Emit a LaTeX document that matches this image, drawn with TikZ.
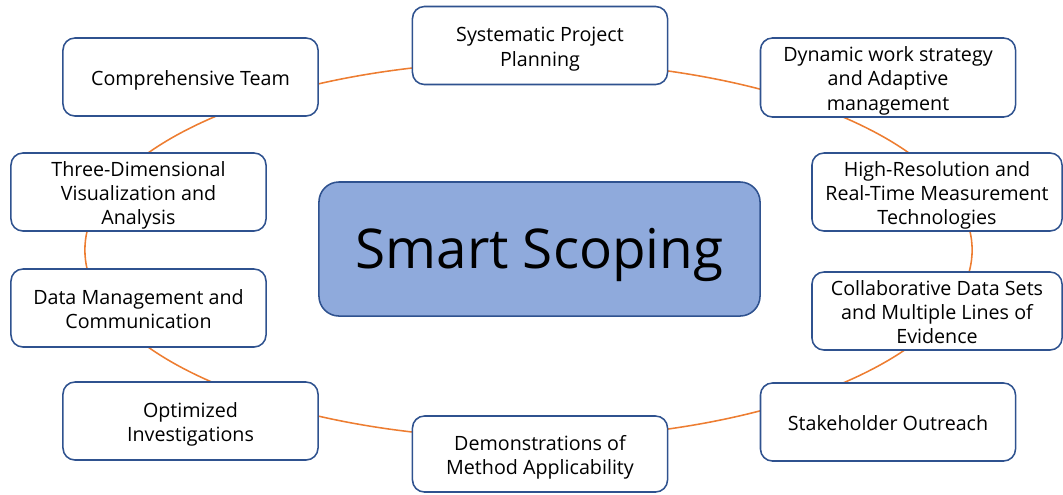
\documentclass[tikz,border=0pt]{standalone}
\usepackage{fontspec}
\setmainfont{Open Sans}
\definecolor{boxline}{HTML}{2F528F}
\definecolor{centerfill}{HTML}{8FAADC}
\definecolor{ringcol}{HTML}{ED7D31}
\newcommand{\tx}[1]{\raisebox{-2.6pt}[\height][\depth]{\begin{tabular}{@{}c@{}}#1\end{tabular}}}
\begin{document}
\begin{tikzpicture}[x=0.025cm,y=-0.025cm,
  item/.style={draw=boxline, line width=1.1pt, fill=white, rounded corners=0.3cm,
    minimum width=6.375cm, minimum height=1.95cm, inner sep=0pt,
    font=\fontsize{14}{17.2}\selectfont, text=black},
  hub/.style={draw=boxline, line width=1.1pt, fill=centerfill, rounded corners=0.5cm,
    minimum width=11.025cm, minimum height=3.35cm, inner sep=0pt,
    font=\fontsize{39}{46}\selectfont, text height=28pt, text depth=0pt},
  ring/.style={draw=ringcol, line width=1.1pt}]
\useasboundingbox (0,0) rectangle (1063,494);
\coordinate (ec) at (528.5,250);
\draw[ring] (ec) ellipse[x radius=11.0875cm, y radius=4.7125cm];
\node[hub] (hub) at (539.5,249) {Smart Scoping};
\node[item] (sys) at (540,45.5) {\tx{Systematic Project\\Planning}};
\node[item, minimum height=1.975cm] (dyn) at (888,77.5) {\tx{Dynamic work strategy\\and Adaptive\\management}};
\node[item, minimum width=6.25cm] (hires) at (937,192) {\tx{High-Resolution and\\Real-Time Measurement\\Technologies}};
\node[item, minimum width=6.25cm] (collab) at (937,311) {\tx{Collaborative Data Sets\\and Multiple Lines of\\Evidence}};
\node[item] (stake) at (888,422) {\tx{Stakeholder Outreach}};
\node[item, minimum height=1.9cm] (demo) at (540,454) {\tx{Demonstrations of\\Method Applicability}};
\node[item] (opt) at (190.5,421) {\tx{Optimized\\Investigations}};
\node[item] (data) at (138.5,308) {\tx{Data Management and\\Communication}};
\node[item] (three) at (138.5,192) {\tx{Three-Dimensional\\Visualization and\\Analysis}};
\node[item] (comp) at (190.5,77) {\tx{Comprehensive Team}};
\end{tikzpicture}
\end{document}
